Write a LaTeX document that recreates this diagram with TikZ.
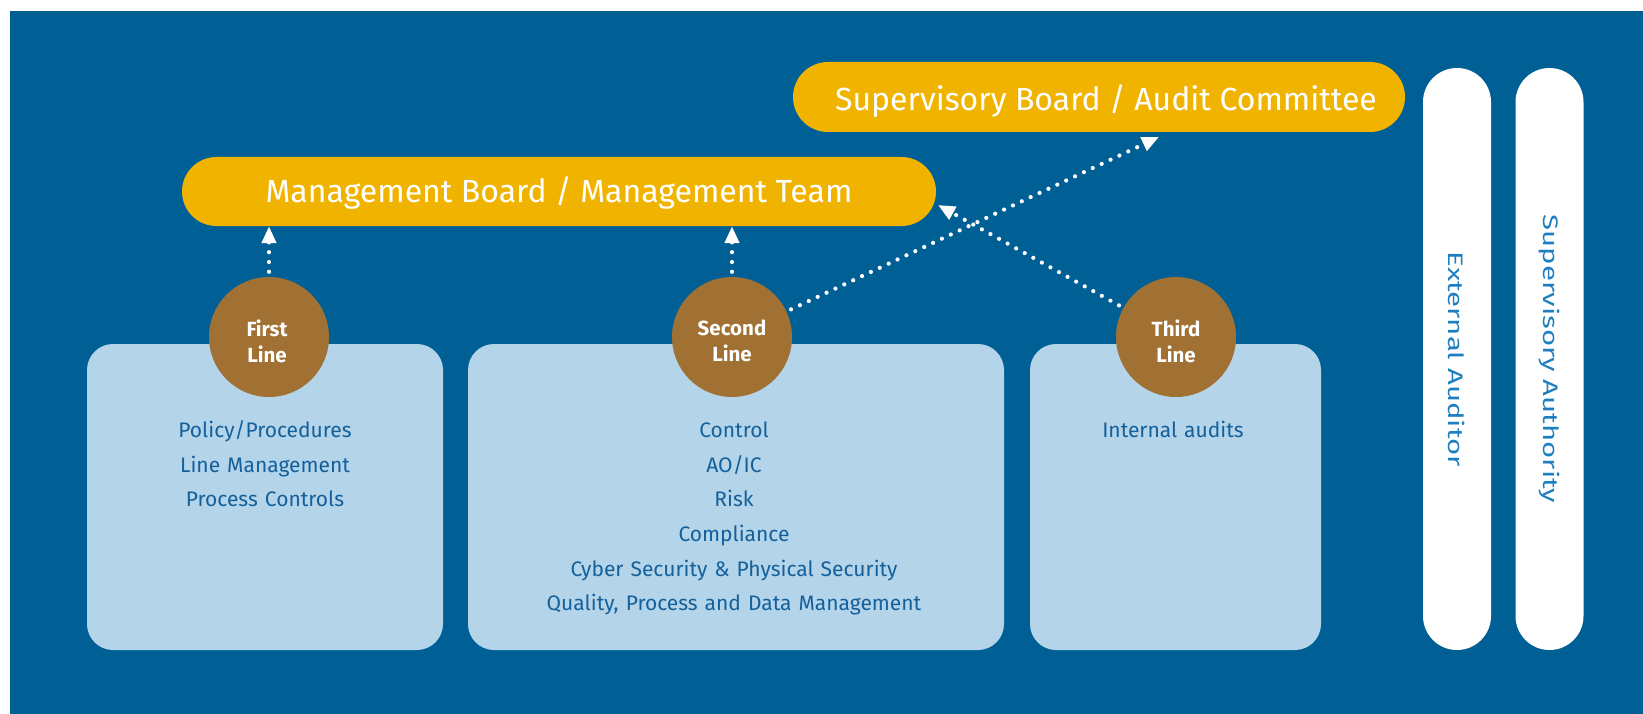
\documentclass[tikz,border=0pt]{standalone}
\usepackage{fontspec}
\setmainfont{Fira Sans}
\newfontfamily\pillarfont{Fira Sans}[FakeStretch=1.4]
\usetikzlibrary{arrows.meta}

\definecolor{bgblue}{HTML}{006096}
\definecolor{boardyellow}{HTML}{F0B400}
\definecolor{linebrown}{HTML}{A07133}
\definecolor{boxblue}{HTML}{B4D4EA}
\definecolor{textblue}{HTML}{13609B}
\definecolor{pillartext}{HTML}{1E7FC0}

\tikzset{
  board/.style={fill=boardyellow, rounded corners=34.5pt, minimum height=69pt, inner sep=0pt},
  boardtxt/.style={text=white, anchor=base, font=\fontsize{32}{38}\selectfont},
  duty/.style={fill=boxblue, rounded corners=26pt, minimum height=306pt},
  linecirc/.style={circle, fill=linebrown, minimum size=120pt, inner sep=0pt},
  circtxt/.style={align=center, text=white, font=\fontsize{20.5}{26}\selectfont\bfseries},
  pillar/.style={fill=white, rounded corners=34pt, rotate=-90, minimum width=582pt, minimum height=68pt,
    text=pillartext, font=\pillarfont\fontsize{21}{25}\selectfont},
  dutytxt/.style={text=textblue, align=center, anchor=base, font=\fontsize{21}{34.6}\selectfont},
  dotarrow/.style={white, line width=4.2pt, line cap=round, dash pattern=on 0pt off 9.8pt,
    shorten <=5pt, -{Triangle[length=17pt,width=14pt]}}
}

\begin{document}
\begin{tikzpicture}[x=1pt, y=-1pt]
\useasboundingbox (0,0) rectangle (1643,714);
\fill[bgblue] (10,11) rectangle (1643,714);

% boards
\node[board, minimum width=754pt] (mgmt) at (559,191.5) {};
\node[boardtxt] (mgmttxt) at (559,203) {Management Board / Management Team};
\node[board, minimum width=612pt, minimum height=70pt, rounded corners=35pt] (sup) at (1099,97) {};
\node[boardtxt] (suptxt) at (1106,110.5) {Supervisory Board / Audit Committee};

% lines of defence
\node[duty, minimum width=356pt] (boxfirst) at (265,497) {};
\node[duty, minimum width=536pt] (boxsecond) at (736,497) {};
\node[duty, minimum width=291pt] (boxthird) at (1175.5,497) {};

\node[linecirc] (first) at (269,337) {};
\node[linecirc] (second) at (732,337) {};
\node[linecirc] (third) at (1176,337) {};
\node[circtxt] (firsttxt) at (267,341) {First\\Line};
\node[circtxt] (secondtxt) at (732,341) {Second\\Line};
\node[circtxt] (thirdtxt) at (1176,341) {Third\\Line};

\node[dutytxt, text width=330pt] (txtfirst) at (265,437.7) {Policy/Procedures\\Line Management\\Process Controls};
\node[dutytxt, text width=500pt] (txtsecond) at (734,437.7) {Control\\AO/IC\\Risk\\Compliance\\Cyber Security \& Physical Security\\Quality, Process and Data Management};
\node[dutytxt, text width=260pt] (txtthird) at (1173,437.7) {Internal audits};

% outside parties
\node[pillar] (extaud) at (1457,359) {External Auditor};
\node[pillar] (supauth) at (1549.5,359) {Supervisory Authority};

% reporting
\coordinate (supin) at (1159,137);
\coordinate (mgmtin) at (938,205);
\draw[dotarrow] (first) -- (first |- mgmt.south);
\draw[dotarrow] (second) -- (second |- mgmt.south);
\draw[dotarrow] (second) -- (supin);
\draw[dotarrow] (third) -- (mgmtin);
\end{tikzpicture}
\end{document}
